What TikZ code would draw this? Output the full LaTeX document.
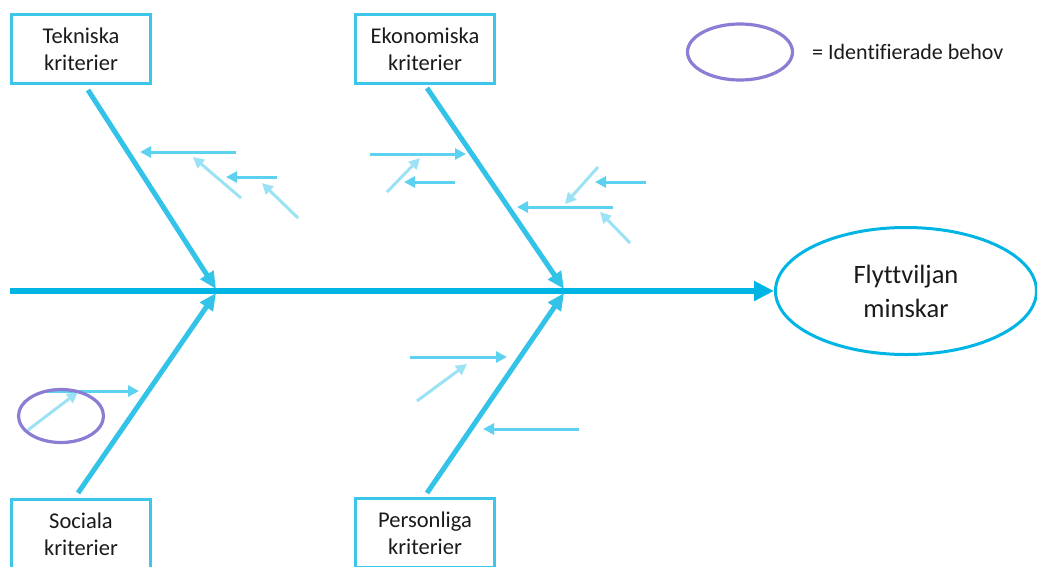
\documentclass[tikz,border=0pt]{standalone}
\usepackage{fontspec}
\setmainfont[Ligatures=CommonOff]{Carlito}
\usetikzlibrary{arrows.meta,shapes.geometric}

\definecolor{spine}{HTML}{00B4E4}
\definecolor{bone}{HTML}{33C3E9}
\definecolor{frame}{HTML}{3CC6EA}
\definecolor{cause}{HTML}{5CD2F0}
\definecolor{subcause}{HTML}{9CE2F5}
\definecolor{need}{HTML}{8A7DD3}
\definecolor{ink}{HTML}{1A1A1A}

\tikzset{
  catbox/.style={draw=frame, line width=3.5pt, fill=white, inner sep=0pt,
    minimum width=139pt, minimum height=69pt, align=center, text=ink,
    font=\fontsize{22.5}{27}\selectfont},
  goalshape/.style={ellipse, draw=spine, line width=3pt, inner sep=0pt,
    minimum width=261pt, minimum height=127pt, align=center, text=ink,
    font=\fontsize{26.5}{34}\selectfont},
  needshape/.style={ellipse, draw=need, line width=3.2pt, inner sep=0pt},
  spinearrow/.style={draw=spine, line width=6pt,
    -{Triangle[length=20pt,width=19pt]}},
  bonearrow/.style={draw=bone, line width=5pt,
    -{Triangle[length=17pt,width=15pt]}},
  causearrow/.style={draw=cause, line width=3pt,
    -{Triangle[length=11pt,width=11pt]}},
  subarrow/.style={causearrow, draw=subcause},
}

\begin{document}
\begin{tikzpicture}[x=1pt, y=-1pt]
  \useasboundingbox (0,0) rectangle (1037,566);

  % effect and category boxes
  \node[goalshape] (goal) at (906,291) {Flyttviljan\\minskar};
  \node[catbox] (tek) at (81,49) {Tekniska\\kriterier};
  \node[catbox] (eko) at (425,49) {Ekonomiska\\kriterier};
  \node[catbox] (soc) at (81,534) {Sociala\\kriterier};
  \node[catbox] (per) at (425,533) {Personliga\\kriterier};

  % legend
  \node[needshape, minimum width=105pt, minimum height=56pt] (legend) at (740,52) {};
  \node[anchor=west, inner sep=0pt, text=ink, font=\fontsize{22}{26}\selectfont]
    (legendtext) at (812,52) {= Identifierade behov};

  % spine and main bones
  \coordinate (tail) at (10,291);
  \coordinate (j1) at (216,289);
  \coordinate (j2) at (564,289);
  \coordinate (k1) at (216,293);
  \coordinate (k2) at (564,293);
  \coordinate (b1) at (88,90);
  \coordinate (b2) at (427,88);
  \coordinate (b3) at (78,493);
  \coordinate (b4) at (427,493);

  \draw[spinearrow] (tail) -- (goal.west);
  \draw[bonearrow] (b1) -- (j1);
  \draw[bonearrow] (b2) -- (j2);
  \draw[bonearrow] (b3) -- (k1);
  \draw[bonearrow] (b4) -- (k2);

  % causes on the technical bone
  \coordinate (t1s) at (236,152); \coordinate (t1e) at (140,152);
  \coordinate (t2s) at (241,198); \coordinate (t2e) at (193,157);
  \coordinate (t3s) at (277,177); \coordinate (t3e) at (226,177);
  \coordinate (t4s) at (298,218); \coordinate (t4e) at (262,183);
  \draw[causearrow] (t1s) -- (t1e);
  \draw[subarrow] (t2s) -- (t2e);
  \draw[causearrow] (t3s) -- (t3e);
  \draw[subarrow] (t4s) -- (t4e);

  % causes on the economic bone
  \coordinate (e1s) at (370,154); \coordinate (e1e) at (466,154);
  \coordinate (e2s) at (387,192); \coordinate (e2e) at (420,158);
  \coordinate (e3s) at (455,182); \coordinate (e3e) at (404,182);
  \coordinate (e4s) at (598,167); \coordinate (e4e) at (565,204);
  \coordinate (e5s) at (646,182); \coordinate (e5e) at (595,182);
  \coordinate (e6s) at (613,207); \coordinate (e6e) at (517,207);
  \coordinate (e7s) at (630,243); \coordinate (e7e) at (600,212);
  \draw[causearrow] (e1s) -- (e1e);
  \draw[subarrow] (e2s) -- (e2e);
  \draw[causearrow] (e3s) -- (e3e);
  \draw[subarrow] (e4s) -- (e4e);
  \draw[causearrow] (e5s) -- (e5e);
  \draw[causearrow] (e6s) -- (e6e);
  \draw[subarrow] (e7s) -- (e7e);

  % causes on the social bone
  \coordinate (s1s) at (43,391); \coordinate (s1e) at (139,391);
  \coordinate (s2s) at (28,430); \coordinate (s2e) at (78,392);
  \draw[causearrow] (s1s) -- (s1e);
  \draw[subarrow] (s2s) -- (s2e);
  \node[needshape, minimum width=85pt, minimum height=53pt] (need1) at (61,416) {};

  % causes on the personal bone
  \coordinate (p1s) at (410,357); \coordinate (p1e) at (507,357);
  \coordinate (p2s) at (417,401); \coordinate (p2e) at (467,364);
  \coordinate (p3s) at (579,429); \coordinate (p3e) at (483,429);
  \draw[causearrow] (p1s) -- (p1e);
  \draw[subarrow] (p2s) -- (p2e);
  \draw[causearrow] (p3s) -- (p3e);
\end{tikzpicture}
\end{document}
